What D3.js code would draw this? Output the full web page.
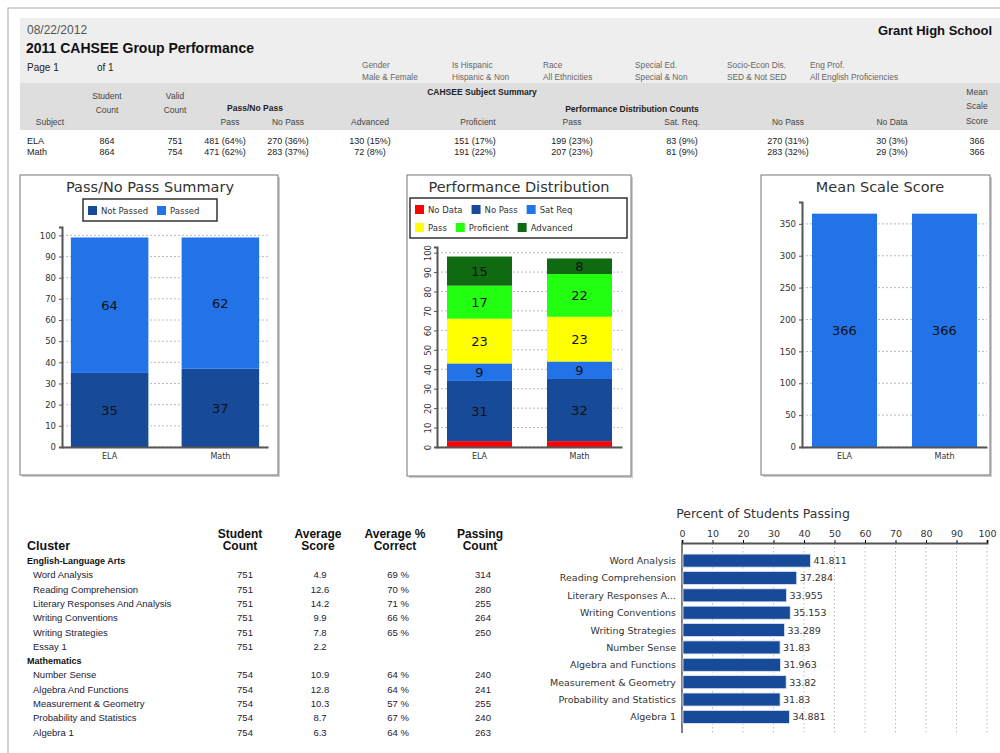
<!DOCTYPE html>
<html>
<head>
<meta charset="utf-8">
<script src="https://cdn.jsdelivr.net/npm/d3@7"></script>
<style>
  body { margin: 0; background: #fff; }
  svg text { font-family: "Liberation Sans", Arial, sans-serif; fill: #333; }
  svg .jf text, svg text.jf { font-family: "DejaVu Sans", sans-serif; }
</style>
</head>
<body>
<svg id="page" width="1000" height="753"></svg>
<script>
// ---- report header data ----
const reportDate = "08/22/2012",
      reportTitle = "2011 CAHSEE Group Performance",
      schoolName = "Grant High School";
const filterNames  = ["Gender", "Is Hispanic", "Race", "Special Ed.", "Socio-Econ Dis.", "Eng Prof."];
const filterValues = ["Male & Female", "Hispanic & Non", "All Ethnicities", "Special & Non", "SED & Not SED", "All English Proficiencies"];

// ---- subject summary table ----
const subjects      = ["ELA", "Math"];
const studentCounts = [864, 864];
const validCounts   = [751, 754];
const passCells     = ["481 (64%)", "471 (62%)"];
const noPassCells   = ["270 (36%)", "283 (37%)"];
const advancedCells = ["130 (15%)", "72 (8%)"];
const proficientCells = ["151 (17%)", "191 (22%)"];
const pdPassCells   = ["199 (23%)", "207 (23%)"];
const satReqCells   = ["83 (9%)", "81 (9%)"];
const pdNoPassCells = ["270 (31%)", "283 (32%)"];
const noDataCells   = ["30 (3%)", "29 (3%)"];
const meanScores    = [366, 366];

// ---- chart data ----
const passLabels = ["Not Passed", "Passed"];
const notPassedPct = [35, 37];
const passedPct    = [64, 62];

const perfLabels   = ["No Data", "No Pass", "Sat Req", "Pass", "Proficient", "Advanced"];
const noDataPct    = [3, 3];
const noPassPct    = [31, 32];
const satReqPct    = [9, 9];
const perfPassPct  = [23, 23];
const proficientPct = [17, 22];
const advancedPct  = [15, 8];

// ---- cluster table ----
const elaClusters  = ["Word Analysis", "Reading Comprehension", "Literary Responses And Analysis", "Writing Conventions", "Writing Strategies", "Essay 1"];
const elaCounts    = [751, 751, 751, 751, 751, 751];
const elaAvgScore  = ["4.9", "12.6", "14.2", "9.9", "7.8", "2.2"];
const elaAvgPct    = ["69 %", "70 %", "71 %", "66 %", "65 %", ""];
const elaPassing   = ["314", "280", "255", "264", "250", ""];
const mathClusters = ["Number Sense", "Algebra And Functions", "Measurement & Geometry", "Probability and Statistics", "Algebra 1"];
const mathCounts   = [754, 754, 754, 754, 754];
const mathAvgScore = ["10.9", "12.8", "10.3", "8.7", "6.3"];
const mathAvgPct   = ["64 %", "64 %", "57 %", "67 %", "64 %"];
const mathPassing  = ["240", "241", "255", "240", "263"];

// ---- percent passing chart ----
const passingLabels = ["Word Analysis", "Reading Comprehension", "Literary Responses A...", "Writing Conventions", "Writing Strategies", "Number Sense", "Algebra and Functions", "Measurement & Geometry", "Probability and Statistics", "Algebra 1"];
const passingPct    = [41.811, 37.284, 33.955, 35.153, 33.289, 31.83, 31.963, 33.82, 31.83, 34.881];

const C = {
  noData: "#ff0000", noPass: "#174a98", satReq: "#2272e8",
  pass: "#ffff00", proficient: "#22ff11", advanced: "#0f6a12"
};

const svg = d3.select("#page");

// page sheet
svg.append("rect").attr("x", 10).attr("y", 10).attr("width", 1000).attr("height", 760).attr("fill", "#e4e4e4");
svg.append("rect").attr("x", 8).attr("y", 8).attr("width", 1000).attr("height", 760)
   .attr("fill", "#fff").attr("stroke", "#aaa");

// ---- header block ----
svg.append("rect").attr("x", 20).attr("y", 18).attr("width", 990).attr("height", 65).attr("fill", "#eeeeee");
svg.append("rect").attr("x", 20).attr("y", 83).attr("width", 990).attr("height", 47).attr("fill", "#dedede");

svg.append("text").attr("x", 27).attr("y", 34).attr("font-size", 12).style("fill", "#555").text(reportDate);
svg.append("text").attr("x", 26).attr("y", 53).attr("font-size", 14).attr("font-weight", "bold").style("fill", "#111").text(reportTitle);
svg.append("text").attr("x", 992).attr("y", 35).attr("text-anchor", "end").attr("font-size", 13).attr("font-weight", "bold").style("fill", "#111").text(schoolName);
svg.append("text").attr("x", 27).attr("y", 71).attr("font-size", 10).style("fill", "#222").text("Page 1");
svg.append("text").attr("x", 97).attr("y", 71).attr("font-size", 10).style("fill", "#222").text("of 1");

const filterX = [362, 452, 543, 635, 727, 810];
filterNames.forEach((n, i) => {
  svg.append("text").attr("x", filterX[i]).attr("y", 68).attr("font-size", 8.3).style("fill", "#666").text(n);
  svg.append("text").attr("x", filterX[i]).attr("y", 80).attr("font-size", 8.3).style("fill", "#666").text(filterValues[i]);
});

function ht(x, y, t, bold, anchor) {
  svg.append("text").attr("x", x).attr("y", y).attr("font-size", 8.5)
     .attr("text-anchor", anchor || "middle")
     .attr("font-weight", bold ? "bold" : null).style("fill", bold ? "#222" : "#444").text(t);
}
ht(482, 95, "CAHSEE Subject Summary", true);
ht(977, 95, "Mean"); ht(977, 109, "Scale"); ht(977, 124, "Score");
ht(107, 99, "Student"); ht(107, 113, "Count");
ht(175, 99, "Valid"); ht(175, 113, "Count");
ht(255, 111, "Pass/No Pass", true);
ht(632, 112, "Performance Distribution Counts", true);
[[50, "Subject"], [230, "Pass"], [288, "No Pass"], [370, "Advanced"], [478, "Proficient"],
 [572, "Pass"], [682, "Sat. Req."], [788, "No Pass"], [892, "No Data"]]
  .forEach(d => ht(d[0], 125, d[1]));

const colX = [107, 175, 225, 288, 370, 475, 572, 682, 788, 892, 977];
subjects.forEach((s, i) => {
  const y = 144 + i * 11;
  const cells = [studentCounts[i], validCounts[i], passCells[i], noPassCells[i], advancedCells[i],
                 proficientCells[i], pdPassCells[i], satReqCells[i], pdNoPassCells[i], noDataCells[i], meanScores[i]];
  svg.append("text").attr("x", 27).attr("y", y).attr("font-size", 9).style("fill", "#222").text(s);
  cells.forEach((c, j) => svg.append("text").attr("x", colX[j]).attr("y", y).attr("text-anchor", "middle")
     .attr("font-size", 9).style("fill", "#222").text(c));
});

// ---- chart panel helper ----
function panel(x, y, w, h, title, cx) {
  const g = svg.append("g").attr("class", "jf");
  g.append("rect").attr("x", x + 2).attr("y", y + 2).attr("width", w).attr("height", h).attr("fill", "#ccc");
  g.append("rect").attr("x", x).attr("y", y).attr("width", w).attr("height", h).attr("fill", "#fff").attr("stroke", "#777");
  g.append("text").attr("x", cx).attr("y", y + 17).attr("text-anchor", "middle").attr("font-size", 14.5)
   .style("fill", "#333").text(title);
  return g;
}

function legend(g, items, colors, x0, y0, rows, boxW, boxH) {
  g.append("rect").attr("x", x0).attr("y", y0).attr("width", boxW).attr("height", boxH)
   .attr("fill", "#fff").attr("stroke", "#333").attr("stroke-width", 1.5);
  rows.forEach((row, r) => {
    let x = x0 + 5;
    const y = y0 + 12 + r * 18;
    row.forEach(i => {
      g.append("rect").attr("x", x).attr("y", y - 5).attr("width", 9).attr("height", 9).attr("fill", colors[i]);
      const t = g.append("text").attr("x", x + 13).attr("y", y + 3).attr("font-size", 8.5).style("fill", "#333").text(items[i]);
      x += 13 + t.node().getComputedTextLength() + 9;
    });
  });
}

function yAxisGrid(g, y, x0, x1, ticks, rotate) {
  ticks.forEach(v => {
    g.append("line").attr("x1", x0).attr("x2", x1).attr("y1", y(v)).attr("y2", y(v))
     .attr("stroke", "#bbb").attr("stroke-dasharray", "2,2");
  });
  const ax = g.append("g").attr("transform", `translate(${x0},0)`)
    .call(d3.axisLeft(y).tickValues(ticks).tickSize(3).tickPadding(3));
  ax.select(".domain").attr("stroke", "#555").attr("stroke-width", 2);
  ax.selectAll(".tick line").attr("stroke", "#555");
  ax.selectAll("text").attr("font-size", 8.5).attr("fill", "#444").attr("font-family", "DejaVu Sans");
  if (rotate) {
    ax.selectAll("text").attr("text-anchor", "middle").attr("dy", null)
      .attr("transform", "translate(-6,0) rotate(-90)").attr("x", 0).attr("y", 0);
  }
}

function xAxis(g, x, y0) {
  const ax = g.append("g").attr("transform", `translate(0,${y0})`)
    .call(d3.axisBottom(x).tickSize(0).tickPadding(6));
  ax.select(".domain").attr("stroke", "#555").attr("stroke-width", 2);
  ax.selectAll("text").attr("font-size", 8).attr("fill", "#444").attr("font-family", "DejaVu Sans");
}

function stackedBars(g, x, y, series, colors) {
  const rows = subjects.map((s, i) => {
    const r = { subject: s };
    series.forEach((ser, k) => r[k] = ser[i]);
    return r;
  });
  const stack = d3.stack().keys(series.map((_, k) => k))(rows);
  stack.forEach((layer, k) => {
    g.selectAll(null).data(layer).enter().append("rect")
      .attr("x", d => x(d.data.subject)).attr("width", x.bandwidth())
      .attr("y", d => y(d[1])).attr("height", d => y(d[0]) - y(d[1]))
      .attr("fill", colors[k]);
    g.selectAll(null).data(layer.filter(d => d[1] - d[0] >= 5)).enter().append("text")
      .attr("x", d => x(d.data.subject) + x.bandwidth() / 2)
      .attr("y", d => (y(d[0]) + y(d[1])) / 2 + 5)
      .attr("text-anchor", "middle").attr("font-size", 13).style("fill", "#111")
      .text(d => d[1] - d[0]);
  });
}

const y0 = 447;

// ---- Pass/No Pass Summary ----
{
  const g = panel(20, 175, 258, 300, "Pass/No Pass Summary", 150);
  legend(g, passLabels, [C.noPass, C.satReq], 83, 199, [[0, 1]], 134, 22);
  const totals = subjects.map((_, i) => notPassedPct[i] + passedPct[i]);
  const x = d3.scaleBand().domain(subjects).range([62, 268]).paddingInner(0.3).paddingOuter(0.08);
  const y = d3.scaleLinear().domain([0, d3.max(totals) * 1.05]).range([y0, 227]);
  yAxisGrid(g, y, 62, 268, d3.range(0, 101, 10));
  stackedBars(g, x, y, [notPassedPct, passedPct], [C.noPass, C.satReq]);
  xAxis(g, x, y0);
}

// ---- Performance Distribution ----
{
  const g = panel(407, 175, 224, 301, "Performance Distribution", 519);
  const cols = [C.noData, C.noPass, C.satReq, C.pass, C.proficient, C.advanced];
  legend(g, perfLabels, cols, 410, 198, [[0, 1, 2], [3, 4, 5]], 217, 40);
  const series = [noDataPct, noPassPct, satReqPct, perfPassPct, proficientPct, advancedPct];
  const totals = subjects.map((_, i) => d3.sum(series, s => s[i]));
  const x = d3.scaleBand().domain(subjects).range([437, 622]).paddingInner(0.35).paddingOuter(0.1);
  const y = d3.scaleLinear().domain([0, d3.max(totals) * 1.05]).range([y0, 247]);
  yAxisGrid(g, y, 437, 622, d3.range(0, 101, 10), true);
  stackedBars(g, x, y, series, cols);
  xAxis(g, x, y0);
}

// ---- Mean Scale Score ----
{
  const g = panel(761, 175, 229, 300, "Mean Scale Score", 880);
  const x = d3.scaleBand().domain(subjects).range([802, 987]).paddingInner(0.35).paddingOuter(0.1);
  const y = d3.scaleLinear().domain([0, d3.max(meanScores) * 1.05]).range([y0, 202]);
  yAxisGrid(g, y, 802, 987, d3.range(0, 351, 50));
  g.selectAll(null).data(subjects).enter().append("rect")
    .attr("x", d => x(d)).attr("width", x.bandwidth())
    .attr("y", (d, i) => y(meanScores[i])).attr("height", (d, i) => y0 - y(meanScores[i]))
    .attr("fill", C.satReq);
  g.selectAll(null).data(subjects).enter().append("text")
    .attr("x", d => x(d) + x.bandwidth() / 2).attr("y", (d, i) => (y0 + y(meanScores[i])) / 2 + 5)
    .attr("text-anchor", "middle").attr("font-size", 13).style("fill", "#111")
    .text((d, i) => meanScores[i]);
  xAxis(g, x, y0);
}

// ---- Cluster table ----
{
  const g = svg.append("g");
  const hx = [240, 318, 395, 480];
  const heads = [["Student", "Count"], ["Average", "Score"], ["Average %", "Correct"], ["Passing", "Count"]];
  heads.forEach((h, i) => h.forEach((t, k) => g.append("text").attr("x", hx[i]).attr("y", 538 + k * 12)
    .attr("text-anchor", "middle").attr("font-size", 12).attr("font-weight", "bold").style("fill", "#111").text(t)));
  g.append("text").attr("x", 27).attr("y", 550).attr("font-size", 12.5).attr("font-weight", "bold").style("fill", "#111").text("Cluster");

  const vx = [245, 320, 398, 483];
  let y = 564;
  const group = (name, names, counts, avg, pct, pass) => {
    g.append("text").attr("x", 27).attr("y", y).attr("font-size", 9).attr("font-weight", "bold").style("fill", "#111").text(name);
    y += 14.3;
    names.forEach((n, i) => {
      g.append("text").attr("x", 33).attr("y", y).attr("font-size", 9.5).style("fill", "#223").text(n);
      [counts[i], avg[i], pct[i], pass[i]].forEach((v, j) => g.append("text").attr("x", vx[j]).attr("y", y)
        .attr("text-anchor", "middle").attr("font-size", 9.5).style("fill", "#223").text(v));
      y += 14.3;
    });
  };
  group("English-Language Arts", elaClusters, elaCounts, elaAvgScore, elaAvgPct, elaPassing);
  group("Mathematics", mathClusters, mathCounts, mathAvgScore, mathAvgPct, mathPassing);
}

// ---- Percent of Students Passing ----
{
  const g = svg.append("g").attr("class", "jf");
  g.append("text").attr("x", 763).attr("y", 518).attr("text-anchor", "middle").attr("font-size", 12.5)
   .style("fill", "#333").text("Percent of Students Passing");
  const x = d3.scaleLinear().domain([0, 100]).range([682, 987]);
  const y = d3.scaleBand().domain(passingLabels).range([552, 725.5]).paddingInner(0.25).paddingOuter(0.12);
  d3.range(10, 101, 10).forEach(v => g.append("line").attr("x1", x(v)).attr("x2", x(v)).attr("y1", 543).attr("y2", 733)
    .attr("stroke", "#bbb").attr("stroke-dasharray", "1.5,2.5"));
  const ax = g.append("g").attr("transform", "translate(0,543)")
    .call(d3.axisTop(x).tickValues(d3.range(0, 101, 10)).tickSize(3).tickPadding(3));
  ax.select(".domain").attr("stroke", "#555").attr("stroke-width", 2);
  ax.selectAll("text").attr("font-size", 9.5).attr("fill", "#444").attr("font-family", "DejaVu Sans");
  g.append("line").attr("x1", 682).attr("x2", 682).attr("y1", 543).attr("y2", 733).attr("stroke", "#555").attr("stroke-width", 1.5);
  g.selectAll(null).data(passingLabels).enter().append("rect")
    .attr("x", x(0) + 1).attr("y", d => y(d)).attr("height", y.bandwidth())
    .attr("width", (d, i) => x(passingPct[i]) - x(0))
    .attr("fill", C.noPass).attr("stroke", "#dde6f5").attr("stroke-width", 0.8);
  g.selectAll(null).data(passingLabels).enter().append("text")
    .attr("x", 676).attr("y", d => y(d) + y.bandwidth() / 2 + 3.5).attr("text-anchor", "end")
    .attr("font-size", 9.5).style("fill", "#333").text(d => d);
  g.selectAll(null).data(passingLabels).enter().append("text")
    .attr("x", (d, i) => x(passingPct[i]) + 4).attr("y", d => y(d) + y.bandwidth() / 2 + 3.5)
    .attr("font-size", 9.5).style("fill", "#333").text((d, i) => passingPct[i]);
}
</script>
</body>
</html>
